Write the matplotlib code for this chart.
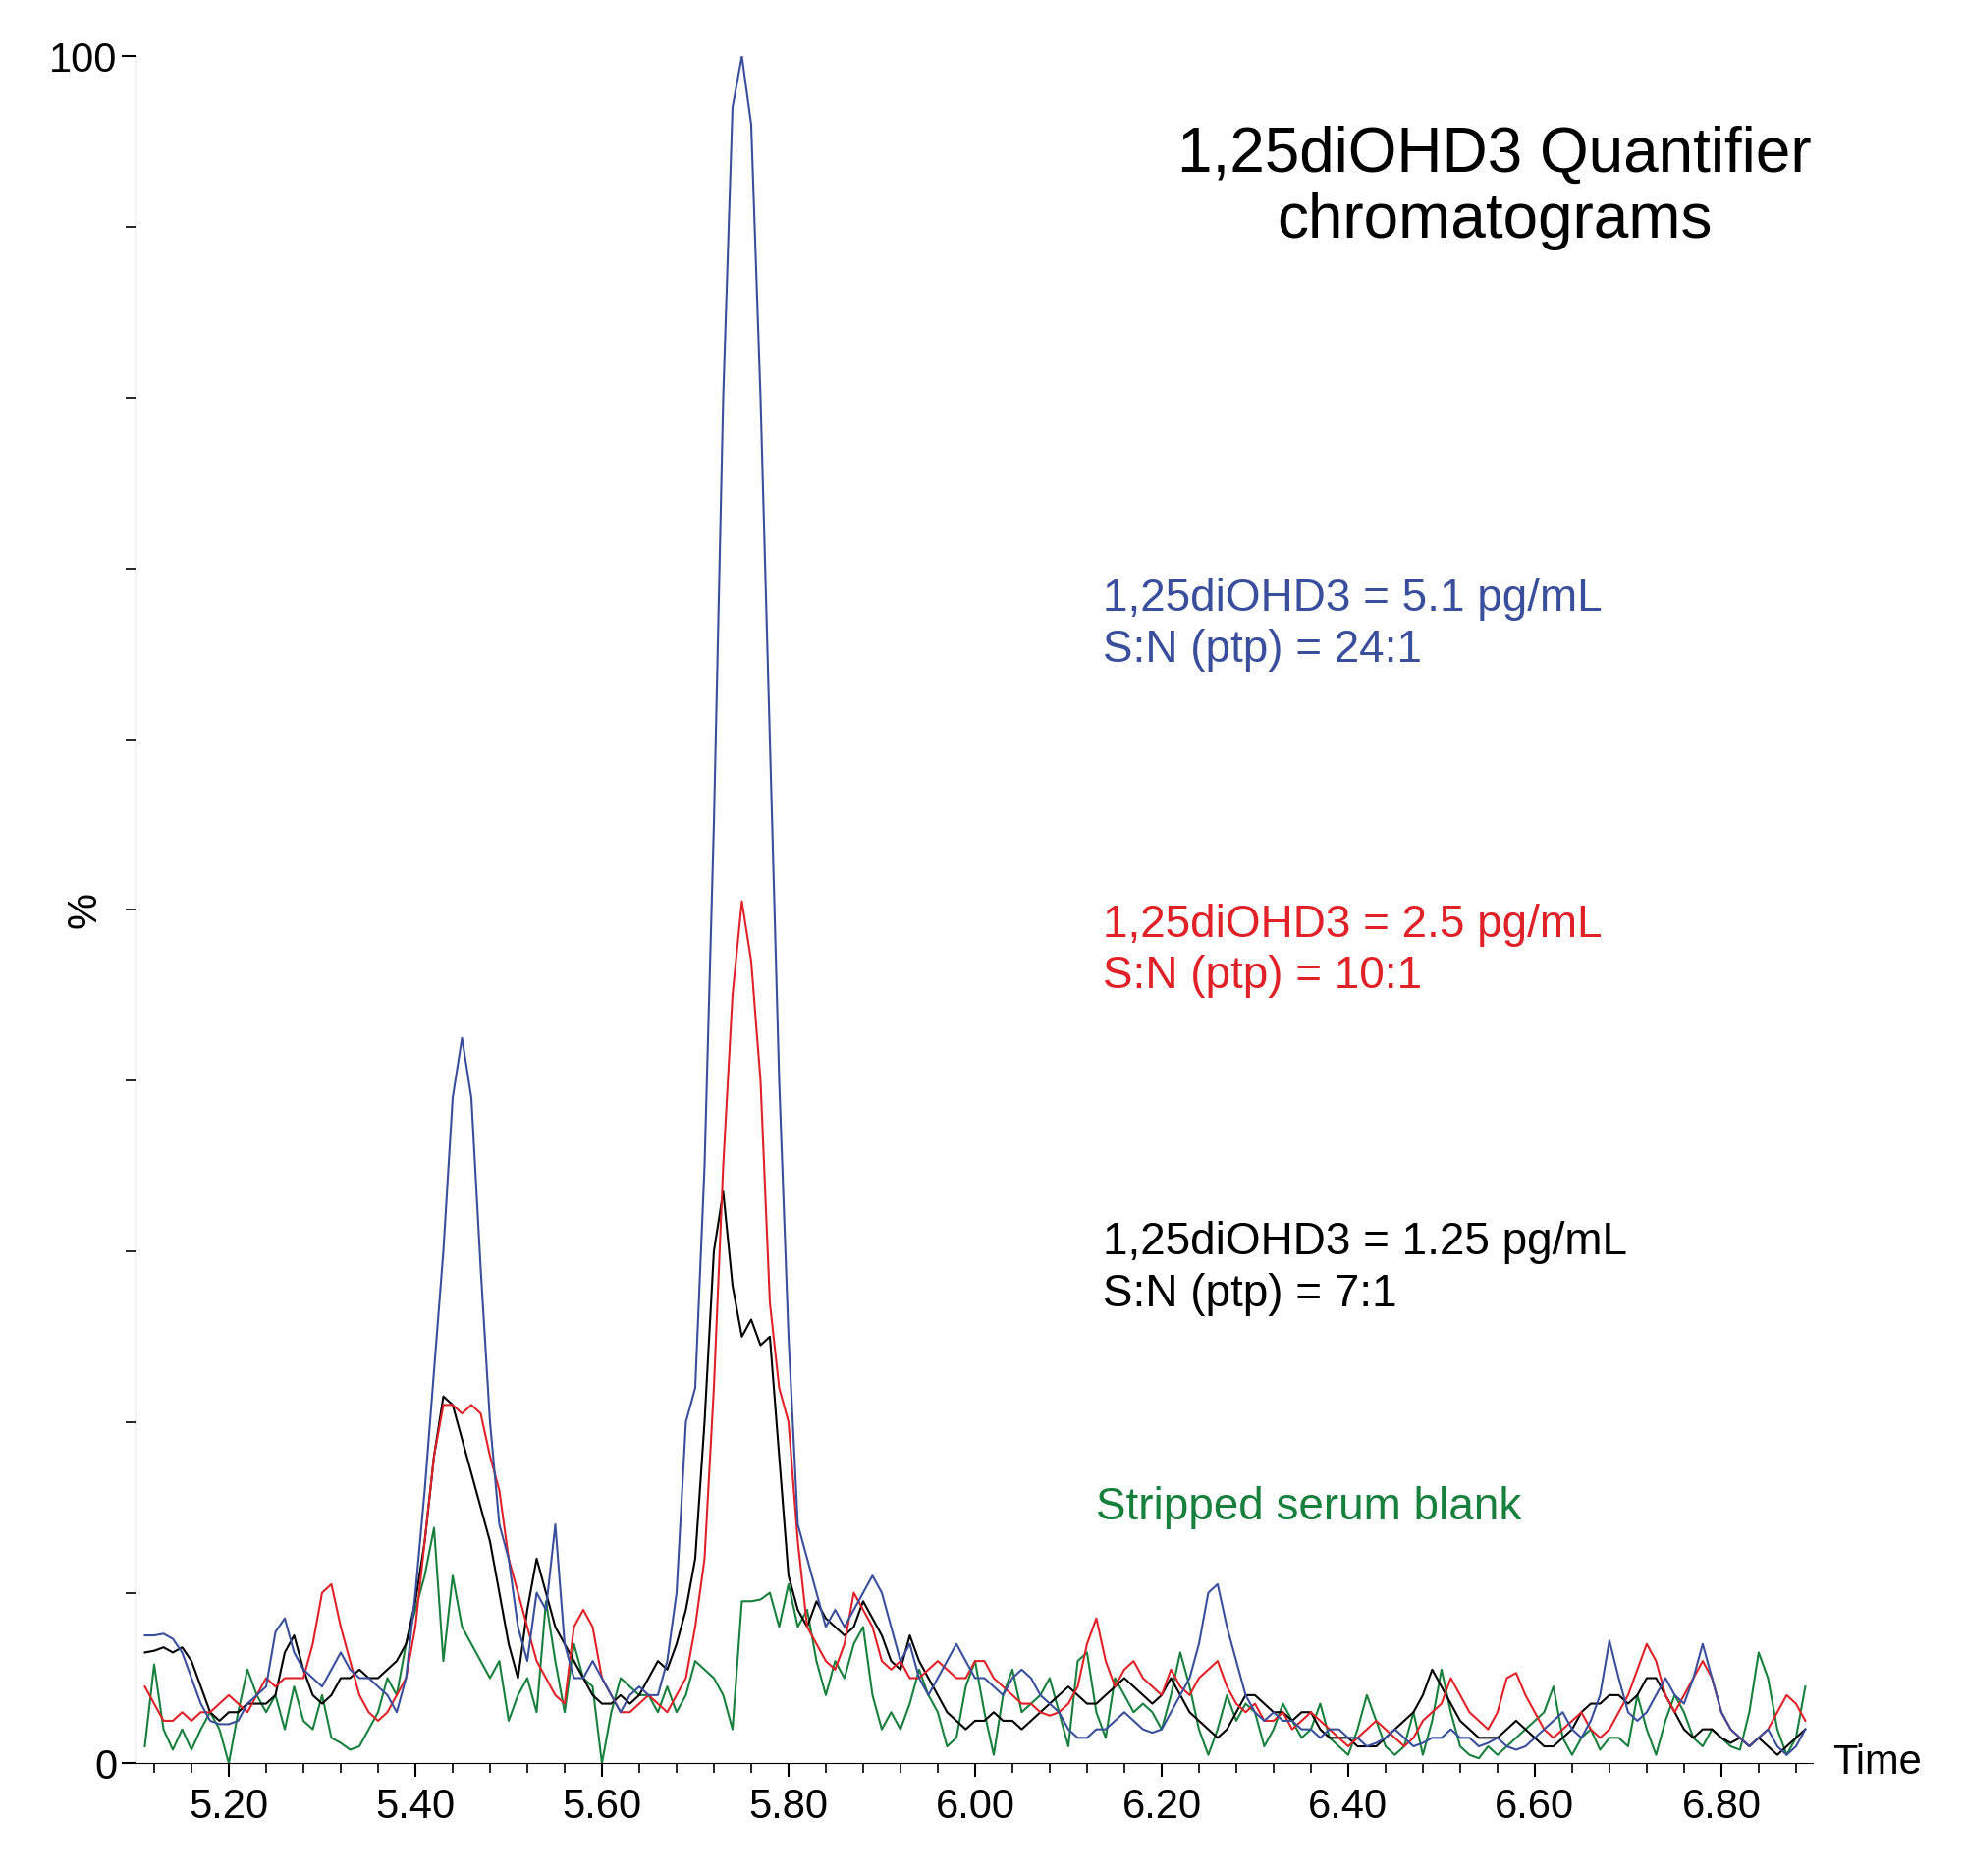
import numpy as np
import matplotlib
matplotlib.use("Agg")
import matplotlib.pyplot as plt
from matplotlib.ticker import MultipleLocator

plt.rcParams["font.family"] = "Liberation Sans"

time = np.round(np.arange(5.11, 6.895, 0.01), 2)

blue = [7.5,7.5,7.6,7.3,6.5, 5,3.5,2.5,2.3,2.3, 2.5,3.5,4,4.5,7.7, 8.5,6.5,5.5,5,4.5,
        5.5,6.5,5.5,5,5, 4.5,4,3,5,10, 16,23,30,39,42.5, 39,29,20,14,12,
        8,6,10,9,14, 7,5,5,6,5, 4,3,4,4.5,4, 4,6,10,20,22,
        35,55,80,97,100, 96,80,60,40,25, 14,12,10,8,9, 8,9,10,11,10,
        8,6,7,5,4, 5,6,7,6,5, 5,4.5,4,5,5.5, 5,4,3.5,3,2,
        1.5,1.5,2,2,2.5, 3,2.5,2,1.8,2, 3,4,5,7,10, 10.5,8,6,4,3,
        2.5,3,2.5,2.5,2, 2,1.5,2,2,1.5, 1.5,1,1.2,1.5,2, 1.5,1,1.2,1.5,1.5,
        2,1.5,1.5,1,1.2, 1.5,1,0.8,1,1.5, 2,2.5,3,2,1.5, 2.5,4,7.2,5,3,
        2.5,3,4,5,4, 3.5,5,7,5,3, 2,1.5,1,1.5,2, 1,0.5,1,2]
red = [4.5,3.5,2.5,2.5,3, 2.5,3,3,3.5,4, 3.5,3,4,5,4.5, 5,5,5,7,10,
       10.5,8,6,4,3, 2.5,3,4,5,8, 13,18,21,21,20.5, 21,20.5,18,16,12,
       10,8,6,5,4, 3.5,8,9,8,5, 4,3,3,3.5,4, 3.5,3,4,5,8,
       12,22,35,45,50.5, 47,40,27,22,20, 13,8,7,6,5.5, 7,10,9,8,6,
       5.5,6,5,5,5.5, 6,5.5,5,5,6, 6,5,4.5,4,3.5, 3.5,3,2.8,3,3.5,
       4.5,7,8.5,6,4.5, 5.5,6,5,4.5,4, 5.5,4.5,4,5,5.5, 6,4.5,3.5,3,3.5,
       2.5,2.5,3,2,2.5, 3,2.5,2,1.5,1, 1.5,2,2.5,2,1.5, 1,1.5,2.5,3,3.5,
       5,4,3,2.5,2, 3,5,5.3,4,3, 2,1.5,2,2.5,3, 2,1.5,2,3,4,
       5.5,7,6,4,3, 4,5,6,5,3, 2,1.5,1,1.5,2, 3,4,3.5,2.5]
black = [6.5,6.6,6.8,6.5,6.8, 6,4.5,3,2.5,3, 3,3.5,3.5,3.5,4, 6.5,7.5,5.5,4,3.5,
         4,5,5,5.5,5, 5,5.5,6,7,9.5, 13,18,21.5,21,19, 17,15,13,10,7,
         5,9,12,10,8, 7,6,5,4,3.5, 3.5,4,3.5,4,5, 6,5.5,7,9,12,
         20,30,33.5,28,25, 26,24.5,25,18,11, 9,8,9.5,8.5,8, 7.5,8,9.5,8.5,7.5,
         6,5.5,7.5,6,5, 4,3,2.5,2,2.5, 2.5,3,2.5,2.5,2, 2.5,3,3.5,4,4.5,
         4,3.5,3.5,4,4.5, 5,4.5,4,3.5,4, 5,4,3,2.5,2, 1.5,2,3,4,4,
         3.5,3,3,2.5,3, 3,2,1.5,1.5,1.5, 1,1,1,1.5,2, 2.5,3,4,5.5,4.5,
         3.5,2.5,2,1.5,1.5, 1.5,2,2.5,2,1.5, 1,1,1.5,2,3, 3.5,3.5,4,4,3.5,
         4,5,5,4,3, 2,1.5,2,2,1.5, 1.2,1.5,1,1.5,1, 0.5,1,1.5,2]
green = [1,5.8,2,0.8,2, 0.8,2,3,2,0, 3,5.5,4,3,4, 2,4.5,2.5,2,4,
         1.5,1.2,0.8,1,2, 3,5,4,7,9, 11,13.8,6,11,8, 7,6,5,6,2.5,
         4,5,3,9.5,6, 3,7,5,4.5,0, 3,5,4.5,4,4, 3,4.5,3,4,6,
         5.5,5,4,2,9.5, 9.5,9.6,10,8,10.5, 8,9,6,4,6, 5,7,8,4,2,
         3,2,3.5,5.5,4, 3,1,1.5,4.5,6, 3,0.5,4,5.5,3, 3.5,4,5,3,1,
         6,6.5,3,1.5,5, 4,3,3.5,3,2, 4,6.5,4.5,2,0.5, 2,4,2.5,3.5,3,
         1,2,3.5,2.5,1.5, 2,3.5,1.5,1,0.5, 2,4,2.5,1,0.5, 1,3,0.5,2.5,5.5,
         3,1,0.5,0.3,1, 0.5,1,1.5,2,2.5, 3,4.5,1.5,0.5,1.5, 2,0.8,1.5,1.5,1,
         4,2,0.5,2.5,4, 3,1.5,1,2,1.5, 1,0.8,3,6.5,5, 2,0.5,1.5,4.5]

xticks = [5.20, 5.40, 5.60, 5.80, 6.00, 6.20, 6.40, 6.60, 6.80]

fig = plt.figure(figsize=(20, 19.1), dpi=100)
ax = fig.add_axes([0.069, 0.06, 0.854, 0.91])
ax.plot(time, green, color="#17803d", lw=1.5)
ax.plot(time, black, color="black", lw=1.5)
ax.plot(time, red, color="#e02127", lw=1.5)
ax.plot(time, blue, color="#3a4f9c", lw=1.5)
ax.set_xlim(5.10, 6.898)
ax.set_ylim(0, 100)
for s in ["top", "right"]:
    ax.spines[s].set_visible(False)
ax.set_xticks(xticks)
ax.set_xticklabels([f"{t:.2f}" for t in xticks])
ax.xaxis.set_minor_locator(MultipleLocator(0.04))
ax.set_yticks([0, 100])
ax.yaxis.set_minor_locator(MultipleLocator(10))
ax.tick_params(labelsize=30, length=10, width=1.5, direction="out")
ax.tick_params(which="minor", length=7, width=1.2)
ax.tick_params(axis="x", pad=8)

ax.text(-0.03, 50, "%", rotation=90, fontsize=30, va="center", ha="center",
        transform=ax.get_yaxis_transform())
ax.text(1.012, 0, "Time", fontsize=30, va="center", ha="left",
        transform=ax.get_yaxis_transform())

ax.text(6.557, 92.3, "1,25diOHD3 Quantifier\nchromatograms", fontsize=46,
        ha="center", va="center", linespacing=1.15)
ax.text(6.137, 66.7, "1,25diOHD3 = 5.1 pg/mL\nS:N (ptp) = 24:1", fontsize=33,
        color="#3a4f9c", va="center", linespacing=1.25)
ax.text(6.137, 47.6, "1,25diOHD3 = 2.5 pg/mL\nS:N (ptp) = 10:1", fontsize=33,
        color="#e02127", va="center", linespacing=1.25)
ax.text(6.137, 29.0, "1,25diOHD3 = 1.25 pg/mL\nS:N (ptp) = 7:1", fontsize=33,
        color="black", va="center", linespacing=1.25)
ax.text(6.13, 15.0, "Stripped serum blank", fontsize=33,
        color="#17803d", va="center")

fig.savefig("out.png", dpi=100)
